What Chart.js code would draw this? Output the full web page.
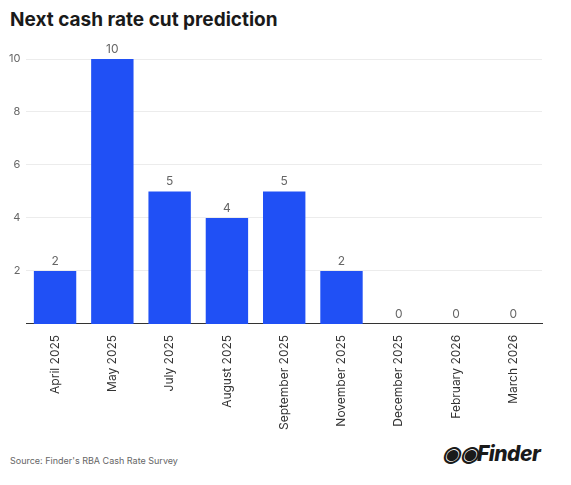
<!DOCTYPE html>
<html>
<head>
<meta charset="utf-8">
<script src="https://cdn.jsdelivr.net/npm/chart.js@4"></script>
<style>
  body { margin: 0; background: #fff; font-family: Inter, "Noto Sans", sans-serif; width: 571px; height: 485px; position: relative; overflow: hidden; }
  #title { position: absolute; left: 10px; top: 8px; font-size: 19px; font-weight: 700; color: #1a1a1a; }
  #wrap { position: absolute; left: 0; top: 40px; width: 556px; height: 393px; }
  #source { position: absolute; left: 10px; top: 455px; font-size: 9px; color: #666; }
  #logo { position: absolute; left: 442px; top: 441px; font-size: 21px; font-weight: 800; font-style: italic; color: #1a1a1a; letter-spacing: -0.5px; }
</style>
</head>
<body>
<div id="title">Next cash rate cut prediction</div>
<div id="wrap"><canvas id="chart"></canvas></div>
<div id="source">Source: Finder's RBA Cash Rate Survey</div>
<div id="logo">◉◉Finder</div>
<script>
const months = ["April 2025", "May 2025", "July 2025", "August 2025", "September 2025", "November 2025", "December 2025", "February 2026", "March 2026"];
const votes = [2, 10, 5, 4, 5, 2, 0, 0, 0];
const yTicks = [2, 4, 6, 8, 10];

// draws value labels above each bar
const barLabels = {
  id: "barLabels",
  afterDatasetsDraw(chart) {
    const ctx = chart.ctx;
    const meta = chart.getDatasetMeta(0);
    ctx.save();
    ctx.font = "12px Inter, sans-serif";
    ctx.fillStyle = "#666";
    ctx.textAlign = "center";
    ctx.textBaseline = "bottom";
    meta.data.forEach((bar, i) => {
      ctx.fillText(votes[i], bar.x, bar.y - 4);
    });
    ctx.restore();
  },
};

new Chart(document.getElementById("chart"), {
  type: "bar",
  data: {
    labels: months,
    datasets: [{ data: votes, backgroundColor: "#2050f5", barPercentage: 0.74, categoryPercentage: 1 }],
  },
  options: {
    responsive: true,
    maintainAspectRatio: false,
    animation: false,
    layout: { padding: { left: 3, right: 14, top: 19 } },
    plugins: { legend: { display: false }, tooltip: { enabled: false } },
    scales: {
      x: {
        grid: { display: false },
        border: { color: "#333", width: 1 },
        ticks: { color: "#333", font: { size: 12, family: "Inter, sans-serif" }, maxRotation: 90, minRotation: 90 },
      },
      y: {
        min: 0,
        max: 10,
        afterBuildTicks: (axis) => { axis.ticks = yTicks.map((v) => ({ value: v })); },
        grid: { color: "#ececec", drawTicks: false },
        border: { display: false },
        ticks: { color: "#666", font: { size: 11, family: "Inter, sans-serif" }, padding: 6 },
      },
    },
  },
  plugins: [barLabels],
});
</script>
</body>
</html>
